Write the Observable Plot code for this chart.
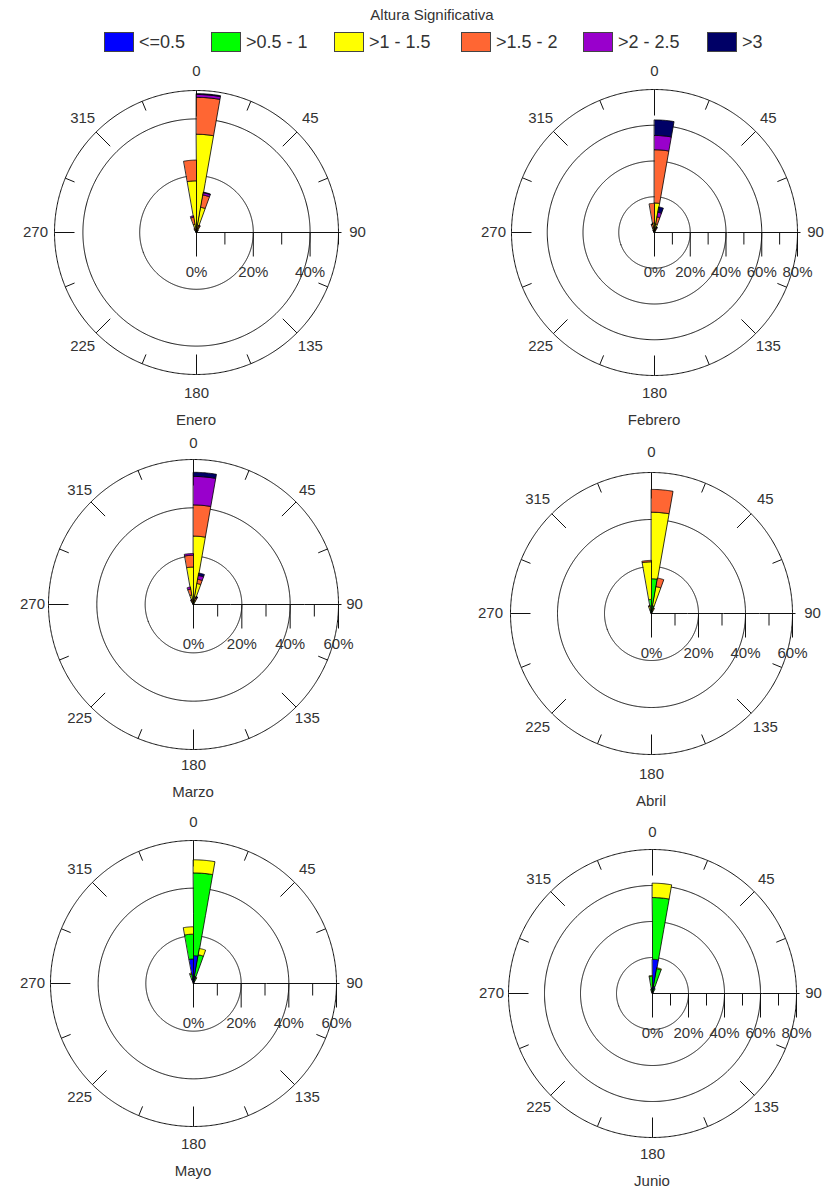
<!DOCTYPE html>
<html>
<head>
<meta charset="utf-8">
<script src="https://cdn.jsdelivr.net/npm/d3@7"></script>
<script src="https://cdn.jsdelivr.net/npm/@observablehq/plot@0.6"></script>
<style>
  html, body { margin: 0; padding: 0; background: #fff; }
  #page { position: relative; width: 828px; height: 1190px; overflow: hidden; font-family: "Liberation Sans", Arial, sans-serif; color: #333; }
  .panel { position: absolute; width: 360px; height: 360px; }
  .panel svg { max-width: none; background: transparent; }
  .mtitle { position: absolute; width: 200px; text-align: center; font-size: 15px; line-height: 18px; color: #333; }
  #ltitle { position: absolute; left: 332px; width: 200px; top: 6px; text-align: center; font-size: 15px; line-height: 18px; }
  .litem { position: absolute; top: 32px; height: 20px; display: flex; align-items: center; }
  .lbox { width: 28px; height: 18px; border: 1px solid #444; margin-right: 5px; }
  .llab { font-size: 18px; line-height: 20px; white-space: nowrap; }
</style>
</head>
<body>
<div id="page"></div>
<script>
// ---------- data ----------
const legendTitle = "Altura Significativa";
const classes = ["<=0.5", ">0.5 - 1", ">1 - 1.5", ">1.5 - 2", ">2 - 2.5", ">3"];
const classColors = ["#0000ff", "#00ff00", "#ffff00", "#ff6633", "#9900cc", "#000066"];
const months = ["Enero", "Febrero", "Marzo", "Abril", "Mayo", "Junio"];
const radialMax = [50, 80, 60, 60, 60, 80];
const compassLabels = [0, 45, 90, 135, 180, 225, 270, 315];
const sectorWidth = 10;

// sector start direction (deg) and % per class [<=0.5, >0.5-1, >1-1.5, >1.5-2, >2-2.5, >3]
const eneroDirs = [0, 350, 10, 340, 20, 330, 30];
const eneroValues = [
  [0, 0.5, 34.1, 13.0, 1.0, 0.3],
  [0, 0.4, 17.8, 7.3, 0, 0],
  [0, 0.3, 8.7, 4.4, 0.8, 0.2],
  [0, 0.2, 2.8, 2.5, 0.5, 0],
  [0, 0.2, 1.5, 0.8, 0.2, 0],
  [0, 0.1, 1.0, 0.5, 0, 0],
  [0, 0.1, 0.6, 0.3, 0, 0]
];
const febreroDirs = [0, 350, 10, 340, 20, 330];
const febreroValues = [
  [0, 0.5, 16.0, 29.8, 8.0, 8.7],
  [0, 0.3, 5.0, 11.0, 0, 0],
  [0, 0.3, 4.5, 4.0, 2.7, 3.0],
  [0, 0.2, 2.5, 2.0, 0.3, 0],
  [0, 0.1, 1.5, 1.0, 0.4, 0.3],
  [0, 0.1, 1.0, 0.5, 0, 0]
];
const marzoDirs = [0, 350, 10, 340, 20, 330];
const marzoValues = [
  [0.2, 1.0, 27.1, 12.9, 11.8, 1.7],
  [0, 0.5, 15.0, 4.9, 0.7, 0],
  [0, 0.8, 8.0, 1.8, 1.6, 1.0],
  [0, 0.3, 3.7, 2.5, 0.9, 0],
  [0, 0.3, 1.5, 1.0, 0.5, 0.2],
  [0, 0.2, 1.2, 0.6, 0.2, 0]
];
const abrilDirs = [0, 350, 10, 340, 20];
const abrilValues = [
  [0.5, 14.3, 28.3, 9.7, 0, 0],
  [0.5, 5.5, 16.0, 0.6, 0, 0],
  [0.3, 3.0, 8.3, 3.7, 0, 0],
  [0.2, 1.5, 1.5, 0.3, 0, 0],
  [0.2, 1.0, 1.0, 0.3, 0, 0]
];
const mayoDirs = [0, 350, 10, 340, 20];
const mayoValues = [
  [11.7, 34.7, 5.5, 0, 0, 0],
  [10.3, 10.4, 3.1, 0, 0, 0],
  [3.0, 9.2, 2.7, 0, 0, 0],
  [2.0, 2.0, 0.5, 0, 0, 0],
  [1.0, 1.5, 0.3, 0, 0, 0]
];
const junioDirs = [0, 10, 350, 340, 20];
const junioValues = [
  [19.0, 34.3, 8.0, 0, 0, 0],
  [4.0, 10.0, 0.5, 0, 0, 0],
  [3.0, 6.5, 0.5, 0, 0, 0],
  [1.0, 1.5, 0, 0, 0, 0],
  [1.0, 2.0, 0, 0, 0, 0]
];
const monthDirs = [eneroDirs, febreroDirs, marzoDirs, abrilDirs, mayoDirs, junioDirs];
const monthValues = [eneroValues, febreroValues, marzoValues, abrilValues, mayoValues, junioValues];

// ---------- layout ----------
const centers = [[196, 232], [654, 232], [193, 604], [651, 613], [193, 983], [652, 993]];
const outerPx = [142, 143, 145, 141, 143, 144];
const legendX = [104, 211, 334, 461, 583, 707];

const page = document.getElementById("page");

// legend
const lt = document.createElement("div");
lt.id = "ltitle"; lt.textContent = legendTitle; page.appendChild(lt);
classes.forEach((c, i) => {
  const it = document.createElement("div");
  it.className = "litem"; it.style.left = legendX[i] + "px";
  const b = document.createElement("div"); b.className = "lbox"; b.style.background = classColors[i];
  const l = document.createElement("span"); l.className = "llab"; l.textContent = c;
  it.appendChild(b); it.appendChild(l); page.appendChild(it);
});

function stackRows(dirs, values) {
  const rows = [];
  dirs.forEach((d, i) => {
    let acc = 0;
    values[i].forEach((v, c) => {
      if (v > 0) rows.push({dir: d, cls: classes[c], r0: acc, r1: acc + v});
      acc += v;
    });
  });
  return rows;
}

// compass angle (clockwise from north) -> longitude; radius % -> latitude
const lon = a => 180 - a;
const lat = r => 90 - r;

function sector(a0, a1, r0, r1) {
  const n = Math.max(4, Math.ceil((a1 - a0) / 0.5));
  const pts = [];
  for (let k = 0; k <= n; k++) pts.push([lon(a0 + (a1 - a0) * k / n), lat(r1)]);
  const rr0 = Math.max(r0, 1e-4);
  for (let k = n; k >= 0; k--) pts.push([lon(a0 + (a1 - a0) * k / n), lat(rr0)]);
  pts.push(pts[0]);
  let g = {type: "Polygon", coordinates: [pts]};
  if (d3.geoArea(g) > 2 * Math.PI) g = {type: "Polygon", coordinates: [pts.slice().reverse()]};
  return g;
}

const tickDown = {
  draw(ctx, size) {
    const l = Math.sqrt(size / Math.PI);
    ctx.moveTo(0, 0);
    ctx.lineTo(0, l);
  }
};

function rosePlot(i) {
  const R = radialMax[i], Rpx = outerPx[i], k = R / Rpx;
  const W = 360, H = 360, cxp = 180, cyp = 175;
  const rows = stackRows(monthDirs[i], monthValues[i]);
  const rings = d3.range(20, R, 20).concat([R]);
  const compassTicks = d3.range(0, 360, 22.5).filter(a => a !== 90);
  const tickLen = a => (a === 0 ? 26 : a % 45 === 0 ? 20 : 10);
  const major = d3.range(0, R + 0.001, 20);
  const minor = d3.range(10, R + 0.001, 20);
  return Plot.plot({
    width: W, height: H,
    marginLeft: cxp - Rpx, marginRight: W - cxp - Rpx,
    marginTop: cyp - Rpx, marginBottom: H - cyp - Rpx,
    projection: {
      type: "azimuthal-equidistant",
      rotate: [0, -90],
      clip: false,
      domain: d3.geoCircle().center([0, 90]).radius(R).precision(1)()
    },
    color: {domain: classes, range: classColors},
    style: {fontFamily: "'Liberation Sans', Arial, sans-serif", fontSize: "15px", color: "#333", background: "transparent", overflow: "visible"},
    marks: [
      Plot.geo(rings, {geometry: r => d3.geoCircle().center([0, 90]).radius(r).precision(0.5)(), stroke: "#111", fill: "none", strokeWidth: 1}),
      Plot.link(compassTicks, {x1: a => lon(a), y1: lat(R), x2: a => lon(a), y2: a => lat(R - tickLen(a) * k), stroke: "#111", strokeWidth: 1}),
      Plot.link([0], {x1: lon(90), y1: 90, x2: lon(90), y2: lat(R + 3 * k), stroke: "#111", strokeWidth: 1}),
      Plot.dot(major, {x: lon(90), y: r => lat(r), r: 24, symbol: tickDown, stroke: "#111", fill: "none", strokeWidth: 1}),
      Plot.dot(minor, {x: lon(90), y: r => lat(r), r: 12, symbol: tickDown, stroke: "#111", fill: "none", strokeWidth: 1}),
      Plot.text(major, {x: lon(90), y: r => lat(r), text: r => r + "%", dy: 40, fontSize: 15, fill: "#333"}),
      Plot.text(compassLabels, {x: a => lon(a), y: lat(161 * k), text: a => String(a), fontSize: 15, fill: "#333"}),
      Plot.geo(rows, {geometry: d => sector(d.dir, d.dir + sectorWidth, d.r0, d.r1), fill: "cls", stroke: "#000", strokeWidth: 0.8})
    ]
  });
}

months.forEach((m, i) => {
  const [cx, cy] = centers[i];
  const div = document.createElement("div");
  div.className = "panel";
  div.style.left = (cx - 180) + "px";
  div.style.top = (cy - 175) + "px";
  div.appendChild(rosePlot(i));
  page.appendChild(div);
  const t = document.createElement("div");
  t.className = "mtitle";
  t.style.left = (cx - 100) + "px";
  t.style.top = (cy + 188 - 9) + "px";
  t.textContent = m;
  page.appendChild(t);
});
</script>
</body>
</html>
